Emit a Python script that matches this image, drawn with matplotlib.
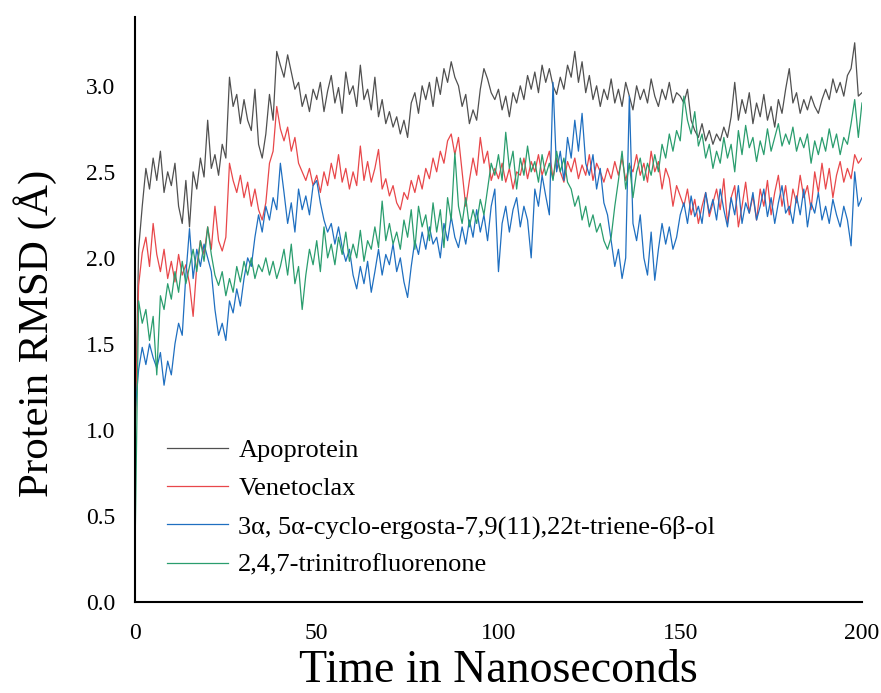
import matplotlib
matplotlib.use("Agg")
import matplotlib.pyplot as plt
import numpy as np

plt.rcParams['font.family'] = ['Liberation Serif', 'DejaVu Serif']

# time axis (ns), one sample per ns
time_ns = np.arange(0, 201)

apoprotein = [
    0.90, 2.05, 2.30, 2.52, 2.40, 2.58, 2.45, 2.62, 2.38, 2.50,
    2.42, 2.55, 2.30, 2.20, 2.45, 2.18, 2.50, 2.40, 2.58, 2.47,
    2.80, 2.52, 2.60, 2.48, 2.66, 2.58, 3.05, 2.88, 2.95, 2.78,
    2.92, 2.80, 2.74, 2.98, 2.66, 2.58, 2.72, 2.95, 2.80, 3.20,
    3.12, 3.05, 3.18, 3.08, 2.98, 3.02, 2.88, 2.95, 2.85, 2.98,
    2.92, 3.02, 2.85, 2.97, 3.06, 2.90, 2.99, 2.84, 3.08, 2.95,
    3.00, 2.88, 3.12, 2.92, 2.98, 2.86, 3.05, 2.82, 2.92, 2.78,
    2.85, 2.76, 2.82, 2.72, 2.80, 2.70, 2.90, 2.96, 2.84, 3.00,
    2.92, 3.02, 2.88, 3.05, 2.95, 3.10, 3.02, 3.14, 3.05, 3.00,
    2.88, 2.95, 2.78, 2.86, 2.80, 2.98, 3.10, 3.04, 2.96, 2.92,
    2.98, 2.86, 2.94, 2.82, 2.96, 2.90, 3.00, 2.92, 3.06, 2.98,
    3.08, 2.96, 3.12, 3.02, 3.10, 3.00, 2.95, 3.05, 2.98, 3.12,
    3.05, 3.20, 3.02, 3.14, 2.96, 3.06, 2.92, 3.00, 2.88, 2.98,
    2.92, 3.04, 2.90, 2.98, 2.88, 3.02, 2.94, 2.86, 3.00, 2.92,
    2.98, 2.90, 3.04, 2.94, 2.88, 2.98, 2.92, 3.02, 2.90, 2.96,
    2.94, 2.90, 2.98, 2.80, 2.74, 2.70, 2.78, 2.68, 2.74, 2.66,
    2.72, 2.68, 2.76, 2.70, 2.82, 3.02, 2.80, 2.92, 2.84, 2.96,
    2.78, 2.90, 2.82, 2.95, 2.80, 2.88, 2.76, 2.92, 2.84, 2.98,
    3.10, 2.90, 2.96, 2.84, 2.92, 2.86, 2.94, 2.88, 2.84, 2.92,
    2.98, 2.92, 3.04, 2.96, 3.02, 2.94, 3.06, 3.10, 3.25, 2.94,
    2.96,
]

venetoclax = [
    0.95, 1.84, 2.03, 2.12, 1.95, 2.20, 2.02, 1.92, 2.05, 1.88,
    1.98, 1.86, 2.02, 1.90, 1.96, 1.85, 1.66, 1.95, 2.10, 2.02,
    2.18, 2.05, 2.30, 2.10, 2.04, 2.12, 2.55, 2.45, 2.38, 2.48,
    2.35, 2.44, 2.30, 2.40, 2.28, 2.22, 2.32, 2.55, 2.62, 2.88,
    2.75, 2.68, 2.76, 2.62, 2.70, 2.55, 2.50, 2.45, 2.52, 2.42,
    2.48, 2.38, 2.50, 2.42, 2.55, 2.46, 2.60, 2.44, 2.52, 2.40,
    2.50, 2.42, 2.65, 2.45, 2.56, 2.44, 2.52, 2.63, 2.40, 2.46,
    2.36, 2.42, 2.32, 2.28, 2.38, 2.34, 2.45, 2.38, 2.48, 2.40,
    2.52, 2.46, 2.58, 2.50, 2.62, 2.55, 2.68, 2.72, 2.60, 2.70,
    2.50, 2.30, 2.45, 2.58, 2.48, 2.70, 2.55, 2.62, 2.45, 2.52,
    2.46, 2.55, 2.44, 2.52, 2.40, 2.50, 2.48, 2.58, 2.46, 2.56,
    2.50, 2.60, 2.48, 2.55, 2.62, 2.46, 2.58, 2.50, 2.44, 2.56,
    2.50, 2.58, 2.46, 2.54, 2.48, 2.60, 2.45, 2.55, 2.50, 2.44,
    2.52, 2.46, 2.56, 2.48, 2.58, 2.45, 2.54, 2.50, 2.60, 2.48,
    2.55, 2.44, 2.62, 2.50, 2.56, 2.40, 2.52, 2.46, 2.30, 2.42,
    2.36, 2.30, 2.40, 2.25, 2.34, 2.20, 2.30, 2.38, 2.24, 2.32,
    2.40, 2.28, 2.46, 2.20, 2.35, 2.42, 2.18, 2.30, 2.44, 2.26,
    2.36, 2.22, 2.40, 2.30, 2.45, 2.25, 2.38, 2.48, 2.30, 2.42,
    2.25, 2.40, 2.32, 2.48, 2.35, 2.42, 2.28, 2.50, 2.38, 2.55,
    2.40, 2.52, 2.35, 2.48, 2.56, 2.44, 2.52, 2.46, 2.60, 2.55,
    2.58,
]

cyclo_ergosta = [
    1.10, 1.35, 1.48, 1.38, 1.50, 1.42, 1.36, 1.45, 1.26, 1.40,
    1.32, 1.50, 1.62, 1.55, 1.90, 2.17, 1.88, 2.05, 1.95, 2.08,
    2.00, 1.92, 1.70, 1.55, 1.62, 1.52, 1.75, 1.68, 1.82, 1.72,
    1.88, 2.00, 1.95, 2.12, 2.25, 2.15, 2.30, 2.22, 2.35, 2.28,
    2.55, 2.38, 2.20, 2.32, 2.15, 2.40, 2.28, 2.36, 2.25, 2.42,
    2.45, 2.32, 2.22, 2.15, 2.20, 2.08, 2.18, 2.06, 1.98, 2.05,
    1.90, 1.82, 1.95, 1.85, 1.98, 1.80, 1.92, 2.05, 1.90, 2.02,
    1.96, 2.08, 1.92, 2.00, 1.86, 1.77, 1.95, 2.10, 2.02, 2.15,
    2.05, 2.18, 2.08, 2.12, 2.00, 2.20, 2.10, 2.24, 2.12, 2.06,
    2.18, 2.08, 2.22, 2.12, 2.28, 2.15, 2.25, 2.10, 2.30, 2.40,
    1.92, 2.20, 2.30, 2.15, 2.28, 2.35, 2.18, 2.30, 2.22, 2.00,
    2.40, 2.30, 2.48, 2.36, 2.25, 3.02, 2.50, 2.62, 2.45, 2.70,
    2.58, 2.80, 2.62, 2.84, 2.55, 2.48, 2.60, 2.40, 2.52, 2.32,
    2.25, 2.10, 1.95, 2.05, 1.88, 2.00, 2.94, 2.20, 2.10, 2.25,
    2.00, 1.90, 2.15, 1.87, 2.05, 2.20, 2.08, 2.18, 2.05, 2.12,
    2.25, 2.32, 2.20, 2.36, 2.24, 2.30, 2.20, 2.38, 2.26, 2.34,
    2.22, 2.40, 2.28, 2.18, 2.35, 2.25, 2.42, 2.20, 2.32, 2.26,
    2.38, 2.22, 2.30, 2.40, 2.24, 2.35, 2.20, 2.32, 2.42, 2.26,
    2.30, 2.20, 2.36, 2.25, 2.40, 2.18, 2.32, 2.26, 2.38, 2.22,
    2.30, 2.20, 2.34, 2.25, 2.18, 2.30, 2.22, 2.07, 2.50, 2.30,
    2.35,
]

trinitrofluorenone = [
    0.28, 1.75, 1.62, 1.70, 1.52, 1.66, 1.32, 1.78, 1.70, 1.85,
    1.76, 1.92, 1.80, 1.98, 1.85, 1.95, 2.05, 1.92, 2.10, 1.98,
    2.18, 2.02, 1.90, 1.84, 1.92, 1.78, 1.88, 1.80, 1.95, 1.86,
    1.98, 1.90, 2.00, 1.88, 1.96, 1.92, 2.00, 1.90, 1.98, 1.88,
    1.95, 2.05, 1.90, 2.08, 1.85, 1.95, 1.70, 1.90, 2.05, 1.96,
    2.10, 1.92, 2.18, 2.00, 2.08, 1.96, 2.12, 2.02, 2.15, 1.98,
    2.08, 2.00, 2.16, 1.98, 2.10, 2.05, 2.18, 2.06, 2.33, 2.10,
    2.20, 2.08, 2.15, 2.05, 2.22, 2.12, 2.28, 2.05, 2.30, 2.18,
    2.25, 2.10, 2.32, 2.15, 2.28, 2.06, 2.35, 2.22, 2.61, 2.30,
    2.20, 2.35, 2.18, 2.28, 2.20, 2.34, 2.25, 2.40, 2.55, 2.48,
    2.60, 2.45, 2.73, 2.52, 2.62, 2.40, 2.58, 2.48, 2.65, 2.50,
    2.56, 2.44, 2.60, 2.48, 2.55, 2.45, 2.62, 2.50, 2.58, 2.44,
    2.40, 2.30, 2.36, 2.22, 2.30, 2.18, 2.25, 2.15, 2.20, 2.10,
    2.05, 2.12, 2.30, 2.45, 2.62, 2.40, 2.55, 2.35, 2.50, 2.58,
    2.45, 2.55, 2.48, 2.60, 2.50, 2.66, 2.58, 2.72, 2.62, 2.74,
    2.68, 2.94, 2.80, 2.72, 2.85, 2.65, 2.72, 2.58, 2.66, 2.52,
    2.62, 2.55, 2.70, 2.58, 2.66, 2.50, 2.74, 2.60, 2.77, 2.64,
    2.70, 2.56, 2.68, 2.60, 2.75, 2.62, 2.70, 2.78, 2.65, 2.72,
    2.66, 2.76, 2.62, 2.70, 2.64, 2.72, 2.55, 2.68, 2.60, 2.70,
    2.62, 2.75, 2.64, 2.72, 2.60, 2.70, 2.66, 2.78, 2.92, 2.70,
    2.90,
]

labels = ['Apoprotein', 'Venetoclax',
          '3α, 5α-cyclo-ergosta-7,9(11),22t-triene-6β-ol',
          '2,4,7-trinitrofluorenone']
colors = ['#505050', '#e8474a', '#1f6fc0', '#2a9d6e']
x_ticks = [0, 50, 100, 150, 200]
y_ticks = [0.0, 0.5, 1.0, 1.5, 2.0, 2.5, 3.0]

fig = plt.figure(figsize=(8.81, 6.93), dpi=100)
ax = fig.add_axes([0.1532, 0.1313, 0.8252, 0.8442])

for series, lab, col in zip([apoprotein, venetoclax, cyclo_ergosta, trinitrofluorenone],
                            labels, colors):
    ax.plot(time_ns, series, color=col, lw=0.9, label=lab)

ax.set_xlim(0, 200)
ax.set_ylim(0, 3.4)
ax.set_xticks(x_ticks)
ax.set_yticks(y_ticks)
ax.set_yticklabels([f'{v:.1f}' for v in y_ticks])
ax.tick_params(length=0, labelsize=17)
ax.tick_params(axis='y', pad=14)
ax.tick_params(axis='x', pad=15)

ax.spines['right'].set_visible(False)
ax.spines['top'].set_visible(False)
ax.spines['left'].set_linewidth(1.5)
ax.spines['bottom'].set_linewidth(1.5)

ax.set_xlabel('Time in Nanoseconds', fontsize=33, labelpad=4)
ax.set_ylabel('Protein RMSD (Å)', fontsize=31)
ax.yaxis.set_label_coords(-0.107, 0.46)

ax.legend(loc='upper left', bbox_to_anchor=(0.1896, 0.3665),
          bbox_transform=fig.transFigure, frameon=False, fontsize=19,
          handlelength=2.3, handletextpad=0.4, labelspacing=0.55,
          borderpad=0, borderaxespad=0)

fig.savefig('out.png', dpi=100)
